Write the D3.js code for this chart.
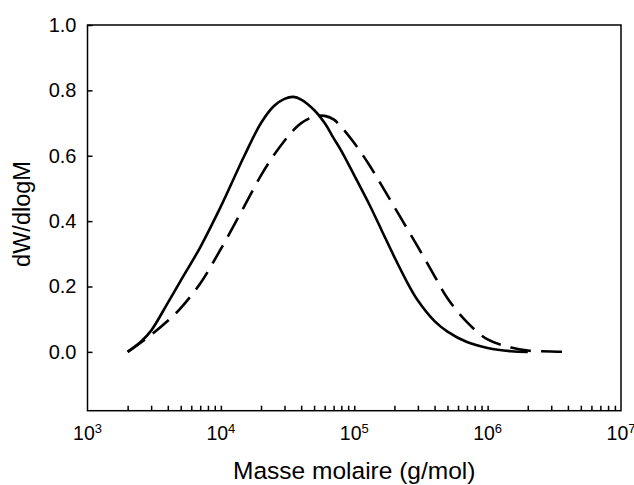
<!DOCTYPE html>
<html>
<head>
<meta charset="utf-8">
<script src="https://cdn.jsdelivr.net/npm/d3@7.9.0/dist/d3.min.js"></script>
<style>
  body { margin: 0; background: #fff; }
  svg { display: block; font-family: "Liberation Sans", Arial, sans-serif; }
</style>
</head>
<body>
<svg width="634" height="485"></svg>
<script>
// molar mass (g/mol) and dW/dlogM
const massSolid = [2000, 2500, 3000, 4000, 5000, 7000, 10000, 15000, 20000, 25000, 30000, 35000, 40000,
  50000, 60000, 70000, 80000, 100000, 130000, 160000, 200000, 250000, 300000, 400000, 500000,
  700000, 1000000, 1500000, 2000000];
const wSolid = [0, 0.030, 0.065, 0.150, 0.218, 0.320, 0.445, 0.600, 0.700, 0.752, 0.774, 0.780, 0.772,
  0.740, 0.700, 0.654, 0.615, 0.540, 0.450, 0.373, 0.290, 0.212, 0.157, 0.094, 0.062,
  0.030, 0.012, 0.002, 0];

const massDashed = [2000, 3000, 4000, 5000, 7000, 10000, 15000, 20000, 25000, 30000, 35000, 40000,
  50000, 60000, 70000, 80000, 100000, 130000, 160000, 200000, 250000, 300000, 400000, 500000,
  700000, 1000000, 1500000, 2000000, 3000000, 4000000];
const wDashed = [0, 0.052, 0.095, 0.134, 0.209, 0.315, 0.446, 0.540, 0.602, 0.646, 0.678, 0.700,
  0.720, 0.722, 0.711, 0.688, 0.639, 0.571, 0.510, 0.443, 0.376, 0.321, 0.232, 0.164,
  0.091, 0.038, 0.013, 0.004, 0.001, 0];

const yTicks = [0, 0.2, 0.4, 0.6, 0.8, 1.0];
const decades = [3, 4, 5, 6, 7];

const svg = d3.select('svg');
const mLeft = 87.5, mRight = 621, mTop = 25, mBottom = 410.7;

const x = d3.scaleLog().domain([1e3, 1e7]).range([mLeft, mRight]);
const y = d3.scaleLinear().domain([-0.18, 1.0]).range([mBottom, mTop]);

// minor + major ticks on x (2..9 of every decade, plus the inner decades)
let xTickVals = [];
for (let e = 3; e < 7; e++) {
  for (let k = 1; k <= 9; k++) {
    const v = k * Math.pow(10, e);
    if (v > 1e3) xTickVals.push(v);
  }
}

const xAxis = svg.append('g')
  .attr('transform', `translate(0,${mBottom})`)
  .call(d3.axisBottom(x).tickValues(xTickVals).tickSize(-5).tickFormat(''));
xAxis.select('.domain').remove();
xAxis.selectAll('line').attr('stroke', '#000').attr('stroke-width', 1.5);

const yAxis = svg.append('g')
  .attr('transform', `translate(${mLeft},0)`)
  .call(d3.axisLeft(y).tickValues(yTicks).tickSize(-5).tickPadding(11).tickFormat(d3.format('.1f')));
yAxis.select('.domain').remove();
yAxis.selectAll('line').attr('stroke', '#000').attr('stroke-width', 1.5);
yAxis.selectAll('text')
  .attr('font-family', '"Liberation Sans", Arial, sans-serif')
  .attr('font-size', 20)
  .attr('fill', '#000');

// frame
svg.append('rect')
  .attr('x', mLeft).attr('y', mTop)
  .attr('width', mRight - mLeft).attr('height', mBottom - mTop)
  .attr('fill', 'none').attr('stroke', '#000').attr('stroke-width', 1.5);

// decade labels with superscripts
const lab = svg.append('g').selectAll('text')
  .data(decades)
  .join('text')
  .attr('x', (d) => x(Math.pow(10, d)))
  .attr('y', 440)
  .attr('text-anchor', 'middle')
  .attr('font-size', 19.5)
  .attr('fill', '#000');
lab.append('tspan').text('10');
lab.append('tspan').attr('font-size', 13).attr('dy', -7).text((d) => d);

// axis titles
svg.append('text')
  .attr('x', (mLeft + mRight) / 2).attr('y', 479)
  .attr('text-anchor', 'middle')
  .attr('font-size', 24.5)
  .text('Masse molaire (g/mol)');

svg.append('text')
  .attr('transform', `translate(30,214) rotate(-90)`)
  .attr('text-anchor', 'middle')
  .attr('font-size', 23.5)
  .text('dW/dlogM');

// curves
const line = d3.line()
  .x((d) => x(d[0]))
  .y((d) => y(d[1]))
  .curve(d3.curveCatmullRom.alpha(0.5));

svg.append('path')
  .attr('d', line(d3.zip(massSolid, wSolid)))
  .attr('fill', 'none').attr('stroke', '#000').attr('stroke-width', 2.6);

svg.append('path')
  .attr('d', line(d3.zip(massDashed, wDashed)))
  .attr('fill', 'none').attr('stroke', '#000').attr('stroke-width', 2.6)
  .attr('stroke-dasharray', '21,10');
</script>
</body>
</html>
